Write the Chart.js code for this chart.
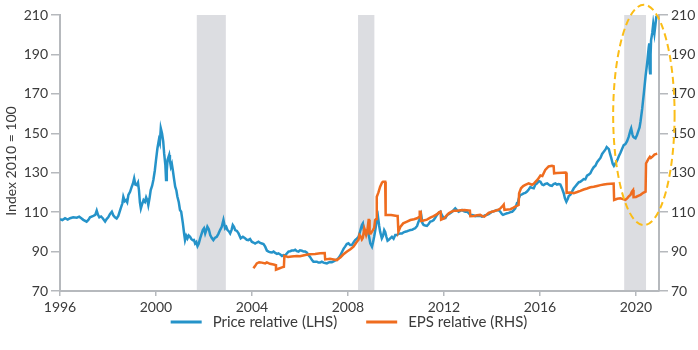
<!DOCTYPE html>
<html>
<head>
<meta charset="utf-8">
<title>Price and EPS relative</title>
<script src="https://cdn.jsdelivr.net/npm/chart.js@4.4.1/dist/chart.umd.min.js"></script>
<style>
  html, body { margin: 0; padding: 0; background: #ffffff; }
  #wrap { position: relative; width: 698px; height: 350px; }
</style>
</head>
<body>
<div id="wrap"><canvas id="chart" width="698" height="350"></canvas></div>
<script>
// Price relative, index 2010 = 100 (left axis)
const priceYears = [
  1996.00,1996.10,1996.21,1996.32,1996.42,1996.55,1996.70,1996.80,1996.90,1996.97,
  1997.11,1997.18,1997.25,1997.39,1997.47,1997.53,1997.58,1997.64,1997.71,1997.78,
  1997.88,1997.95,1998.01,1998.08,1998.16,1998.22,1998.29,1998.36,1998.43,1998.53,
  1998.60,1998.64,1998.70,1998.75,1998.80,1998.85,1998.92,1998.99,1999.04,1999.09,
  1999.14,1999.20,1999.25,1999.29,1999.33,1999.37,1999.42,1999.48,1999.54,1999.59,
  1999.64,1999.68,1999.73,1999.78,1999.84,1999.89,1999.95,2000.00,2000.06,2000.12,
  2000.16,2000.20,2000.25,2000.30,2000.34,2000.39,2000.42,2000.45,2000.48,2000.55,
  2000.58,2000.62,2000.66,2000.70,2000.75,2000.80,2000.85,2000.89,2000.95,2001.00,
  2001.05,2001.12,2001.17,2001.21,2001.26,2001.31,2001.36,2001.42,2001.47,2001.53,
  2001.58,2001.63,2001.68,2001.73,2001.78,2001.84,2001.90,2001.95,2002.00,2002.05,
  2002.10,2002.14,2002.20,2002.26,2002.32,2002.39,2002.45,2002.53,2002.60,2002.67,
  2002.74,2002.81,2002.88,2002.93,2002.98,2003.04,2003.09,2003.15,2003.20,2003.25,
  2003.30,2003.37,2003.44,2003.53,2003.62,2003.71,2003.78,2003.85,2003.92,2003.99,
  2004.06,2004.13,2004.20,2004.27,2004.34,2004.41,2004.48,2004.55,2004.62,2004.69,
  2004.77,2004.83,2004.90,2004.97,2005.04,2005.10,2005.18,2005.25,2005.31,2005.38,
  2005.45,2005.52,2005.59,2005.66,2005.73,2005.80,2005.87,2005.94,2006.00,2006.08,
  2006.15,2006.22,2006.29,2006.35,2006.42,2006.50,2006.56,2006.63,2006.70,2006.77,
  2006.84,2006.91,2006.98,2007.05,2007.12,2007.20,2007.26,2007.33,2007.40,2007.47,
  2007.54,2007.60,2007.68,2007.75,2007.82,2007.88,2007.95,2008.02,2008.09,2008.16,
  2008.23,2008.30,2008.37,2008.44,2008.50,2008.54,2008.58,2008.62,2008.66,2008.72,
  2008.77,2008.82,2008.88,2008.93,2009.00,2009.04,2009.09,2009.14,2009.18,2009.25,
  2009.30,2009.34,2009.41,2009.46,2009.51,2009.55,2009.60,2009.65,2009.69,2009.76,
  2009.83,2009.90,2009.97,2010.04,2010.11,2010.18,2010.25,2010.32,2010.39,2010.46,
  2010.53,2010.60,2010.67,2010.74,2010.80,2010.88,2010.94,2011.01,2011.05,2011.10,
  2011.15,2011.22,2011.29,2011.36,2011.43,2011.50,2011.57,2011.64,2011.71,2011.78,
  2011.85,2011.92,2011.99,2012.06,2012.13,2012.20,2012.26,2012.34,2012.40,2012.47,
  2012.54,2012.61,2012.68,2012.75,2012.82,2012.89,2012.96,2013.03,2013.10,2013.17,
  2013.24,2013.31,2013.38,2013.45,2013.51,2013.58,2013.65,2013.72,2013.79,2013.86,
  2013.93,2014.00,2014.07,2014.14,2014.21,2014.28,2014.35,2014.42,2014.46,2014.53,
  2014.63,2014.70,2014.77,2014.84,2014.90,2014.97,2015.04,2015.07,2015.12,2015.18,
  2015.25,2015.32,2015.39,2015.46,2015.53,2015.60,2015.67,2015.74,2015.81,2015.88,
  2015.95,2016.02,2016.09,2016.15,2016.22,2016.30,2016.36,2016.43,2016.50,2016.57,
  2016.64,2016.71,2016.78,2016.85,2016.92,2016.99,2017.04,2017.10,2017.16,2017.20,
  2017.27,2017.34,2017.41,2017.47,2017.55,2017.62,2017.68,2017.75,2017.82,2017.89,
  2017.96,2018.03,2018.10,2018.17,2018.24,2018.31,2018.38,2018.45,2018.52,2018.59,
  2018.66,2018.73,2018.78,2018.87,2018.92,2018.97,2019.03,2019.08,2019.15,2019.22,
  2019.29,2019.35,2019.42,2019.49,2019.56,2019.63,2019.70,2019.77,2019.80,2019.85,
  2019.88,2019.93,2019.98,2020.04,2020.09,2020.15,2020.19,2020.26,2020.33,2020.40,
  2020.47,2020.53,2020.555,2020.57,2020.59,2020.61,2020.63,2020.68,2020.72,2020.77,
  2020.80,2020.85,2020.88
];
const priceValues = [
  106.4,106.0,106.9,106.2,106.9,107.4,107.2,107.7,106.8,106.1,
  105.2,106.0,107.4,108.1,108.6,110.8,108.8,107.4,107.8,106.9,
  105.2,106.6,107.4,109.0,110.2,108.4,107.4,106.8,108.1,111.9,
  114.5,117.8,115.6,116.1,115.0,118.7,120.3,122.9,124.5,127.1,
  124.0,123.7,125.0,121.2,115.0,111.9,114.0,116.1,115.2,117.5,
  116.0,113.6,117.0,121.2,123.4,126.3,131.0,136.4,142.4,146.6,
  145.0,152.5,150.0,146.0,139.8,133.9,126.3,131.0,136.4,139.0,
  136.0,133.1,134.5,131.4,127.0,122.9,121.0,117.9,115.0,111.1,
  110.2,104.3,99.3,95.8,98.0,96.7,98.2,97.5,96.4,95.8,
  95.9,94.1,94.8,92.8,94.0,96.7,99.0,100.9,101.8,99.2,
  101.0,102.6,101.3,98.4,97.0,95.8,96.9,97.5,99.0,100.9,
  102.6,106.0,101.8,102.5,100.9,100.2,99.2,101.0,103.5,102.6,
  100.9,100.5,99.2,96.7,97.5,96.7,96.0,95.8,96.4,95.0,
  94.6,94.1,94.6,95.0,94.4,94.1,93.8,92.5,90.5,90.0,
  89.6,89.5,90.0,89.3,88.8,89.1,88.5,87.8,88.2,88.0,
  89.0,90.0,90.2,90.5,90.5,90.9,90.2,90.0,90.6,90.4,
  90.0,90.0,89.5,88.3,87.3,85.7,84.9,84.9,84.9,84.4,
  84.4,84.9,84.4,84.2,84.0,84.5,84.7,84.6,85.0,85.5,
  86.0,86.6,88.0,89.8,91.5,92.5,93.8,94.2,93.3,93.3,
  94.6,95.8,96.6,97.5,100.0,101.8,103.5,104.3,101.0,99.2,
  100.5,100.9,97.5,94.2,92.5,94.5,97.5,101.0,104.3,107.7,
  103.0,100.1,96.7,98.0,100.9,100.0,97.5,95.5,95.8,96.7,
  97.5,96.5,98.4,98.4,99.0,99.2,99.2,99.8,100.1,100.3,
  100.6,100.9,101.0,101.5,101.8,103.0,105.2,107.0,108.6,104.5,
  103.5,103.2,103.0,104.0,105.2,105.4,106.0,107.2,108.6,109.6,
  110.2,108.3,106.9,107.0,108.6,109.0,109.4,110.2,111.0,111.9,
  111.0,110.2,110.6,111.1,110.5,110.2,110.2,109.5,108.6,108.6,
  108.3,107.9,108.1,108.0,108.2,107.7,108.0,108.4,108.6,109.0,
  109.6,110.2,110.4,110.8,111.1,111.0,110.2,109.0,108.6,109.0,
  109.4,109.6,110.0,110.2,110.9,111.9,114.5,114.5,117.0,118.7,
  119.0,119.5,119.8,120.4,121.5,122.7,122.3,122.1,124.0,124.6,
  125.8,125.4,124.0,123.7,124.3,124.6,124.0,123.5,123.3,124.3,
  124.6,124.0,124.2,124.0,122.0,119.6,117.0,115.3,116.8,118.2,
  118.9,120.5,122.1,123.0,124.2,125.2,125.4,126.0,126.8,126.6,
  128.5,129.0,129.7,131.5,132.8,133.5,135.3,136.4,137.5,139.5,
  140.7,141.8,143.0,142.0,139.5,137.5,134.5,133.5,134.8,136.4,
  138.5,140.0,142.0,144.0,144.5,146.0,148.3,151.5,152.5,149.5,
  148.3,147.8,147.5,149.0,150.8,153.0,156.0,162.5,170.5,179.0,
  186.0,193.5,195.6,183.0,180.4,190.0,197.3,201.0,205.5,200.8,
  204.0,209.2,209.5
];

// EPS relative, index 2010 = 100 (right axis)
const epsYears = [
  2004.06,2004.12,2004.20,2004.30,2004.41,2004.55,2004.62,2004.75,2004.90,2005.00,
  2005.00,2005.10,2005.25,2005.33,2005.35,2005.50,2005.65,2005.87,2006.00,2006.22,
  2006.40,2006.63,2006.84,2007.03,2007.05,2007.25,2007.40,2007.54,2007.62,2007.68,
  2007.80,2007.96,2008.10,2008.23,2008.37,2008.44,2008.48,2008.54,2008.58,2008.62,
  2008.68,2008.72,2008.76,2008.80,2008.86,2008.88,2008.90,2008.95,2009.04,2009.09,
  2009.13,2009.17,2009.20,2009.27,2009.34,2009.42,2009.46,2009.55,2009.57,2009.80,
  2010.04,2010.07,2010.10,2010.18,2010.30,2010.46,2010.60,2010.75,2010.88,2010.96,
  2010.99,2011.03,2011.05,2011.15,2011.29,2011.43,2011.57,2011.71,2011.80,2011.86,
  2011.88,2012.00,2012.13,2012.20,2012.30,2012.40,2012.55,2012.70,2012.85,2013.03,
  2013.08,2013.10,2013.25,2013.38,2013.51,2013.60,2013.68,2013.75,2013.86,2014.00,
  2014.14,2014.28,2014.35,2014.44,2014.49,2014.52,2014.65,2014.77,2014.90,2014.97,
  2015.11,2015.13,2015.21,2015.30,2015.39,2015.53,2015.67,2015.75,2015.81,2015.90,
  2016.02,2016.10,2016.22,2016.36,2016.50,2016.57,2016.59,2016.71,2016.92,2017.06,
  2017.09,2017.11,2017.25,2017.41,2017.55,2017.68,2017.82,2017.96,2018.10,2018.24,
  2018.38,2018.52,2018.66,2018.80,2018.95,2019.07,2019.09,2019.22,2019.35,2019.49,
  2019.56,2019.63,2019.70,2019.77,2019.83,2019.88,2019.90,2020.00,2020.09,2020.19,
  2020.30,2020.40,2020.42,2020.46,2020.52,2020.58,2020.62,2020.70,2020.77,2020.85,
  2020.88
];
const epsValues = [
  81.5,82.5,84.0,84.6,84.4,84.0,84.5,83.8,83.4,83.1,
  80.8,81.3,82.0,82.3,87.8,87.3,87.5,87.8,87.6,88.3,
  88.6,88.8,89.1,89.2,86.0,86.3,86.0,85.7,86.5,87.0,
  88.5,90.0,91.2,92.5,95.0,96.0,98.4,97.5,96.2,97.0,
  101.8,100.5,98.4,100.0,106.0,106.0,99.2,99.2,100.9,102.0,
  106.0,106.5,117.8,120.0,122.9,125.0,125.4,125.4,108.6,108.6,
  108.1,108.1,100.1,102.5,104.3,105.2,106.0,106.4,106.9,107.5,
  110.2,110.2,105.5,105.8,106.2,107.2,108.0,109.0,110.0,110.2,
  106.2,106.8,108.5,109.4,110.2,110.7,110.7,111.0,111.1,110.9,
  110.8,107.9,108.0,108.4,108.6,108.0,107.7,108.5,109.6,110.2,
  110.7,111.3,111.9,113.0,113.8,111.1,111.3,111.5,112.3,112.8,
  113.6,119.6,122.1,123.2,123.8,124.6,123.9,124.5,125.4,126.5,
  128.6,128.3,131.4,133.2,133.5,133.3,129.7,129.8,130.0,130.1,
  130.0,119.8,120.0,119.6,120.2,120.8,121.5,122.0,122.6,122.9,
  123.3,123.7,124.0,124.3,124.4,124.5,116.2,116.8,117.0,116.5,
  116.2,117.0,118.0,118.7,120.4,121.2,117.6,117.7,118.3,118.8,
  119.8,120.4,134.8,135.6,137.0,138.1,137.5,138.3,139.2,139.6,
  139.8
];

const seriesLabels = ['Price relative (LHS)', 'EPS relative (RHS)'];
const xTickYears = [1996, 2000, 2004, 2008, 2012, 2016, 2020];
const yTickValues = [70, 90, 110, 130, 150, 170, 190, 210];
const recessions = [[2001.70, 2002.91], [2008.42, 2009.10], [2019.51, 2020.42]];
const axisTitle = 'Index 2010 = 100';

// dashed ring around the 2020 rally: centre (year, index) and radii (years, index points)
const focusRing = { x: 2020.33, y: 159.3, rx: 1.28, ry: 55.9 };

const BLUE = '#2593c9';
const ORANGE = '#ef6c1f';
const AXIS = '#b6b9bd';
const TEXT = '#3a3a3a';
const BAND = '#dcdde1';
const RING = '#fbbd17';
const FONT = 'Lato, "Open Sans", sans-serif';

Chart.defaults.font.family = FONT;
Chart.defaults.font.size = 14;
Chart.defaults.color = TEXT;

const toPoints = (xs, ys) => xs.map((x, i) => ({ x: x, y: ys[i] }));

// grey shaded periods behind the lines
const bandsPlugin = {
  id: 'bands',
  beforeDatasetsDraw(chart) {
    const { ctx, chartArea, scales } = chart;
    ctx.save();
    ctx.fillStyle = BAND;
    recessions.forEach(([a, b]) => {
      const x1 = scales.x.getPixelForValue(a);
      const x2 = scales.x.getPixelForValue(b);
      ctx.fillRect(x1, chartArea.top, x2 - x1, chartArea.bottom - chartArea.top - 1);
    });
    ctx.restore();
  }
};

// axis title, dashed ring and legend
const overlayPlugin = {
  id: 'overlay',
  afterDraw(chart) {
    const { ctx, scales } = chart;
    ctx.save();

    // ring
    const cx = scales.x.getPixelForValue(focusRing.x);
    const cy = scales.y.getPixelForValue(focusRing.y);
    const rx = Math.abs(scales.x.getPixelForValue(focusRing.x + focusRing.rx) - cx);
    const ry = Math.abs(scales.y.getPixelForValue(focusRing.y + focusRing.ry) - cy);
    ctx.beginPath();
    ctx.ellipse(cx, cy, rx, ry, 0, 0, Math.PI * 2);
    ctx.setLineDash([7, 4]);
    ctx.lineWidth = 2;
    ctx.strokeStyle = RING;
    ctx.stroke();
    ctx.setLineDash([]);

    // left axis title
    ctx.fillStyle = TEXT;
    ctx.font = '14px ' + FONT;
    ctx.textAlign = 'center';
    ctx.textBaseline = 'middle';
    ctx.save();
    ctx.translate(11, 161);
    ctx.rotate(-Math.PI / 2);
    ctx.fillText(axisTitle, 0, 0);
    ctx.restore();

    // legend
    ctx.font = '15px ' + FONT;
    const lineW = 31, lineGap = 11, itemGap = 29, legendY = 322;
    const items = chart.data.datasets.map(ds => ({
      text: ds.label, color: ds.borderColor, w: ctx.measureText(ds.label).width
    }));
    const total = items.reduce((s, it) => s + lineW + lineGap + it.w, 0) + itemGap * (items.length - 1);
    let x = chart.width / 2 - total / 2;
    ctx.textAlign = 'left';
    items.forEach(it => {
      ctx.fillStyle = it.color;
      ctx.fillRect(x, legendY - 1.5, lineW, 3);
      x += lineW + lineGap;
      ctx.fillStyle = TEXT;
      ctx.fillText(it.text, x, legendY);
      x += it.w + itemGap;
    });
    ctx.restore();
  }
};

const yAxis = (position, width) => ({
  type: 'linear',
  position: position,
  min: 70,
  max: 210,
  afterBuildTicks: s => { s.ticks = yTickValues.map(v => ({ value: v })); },
  afterFit: s => { s.width = width; },
  grid: { drawOnChartArea: false, drawTicks: true, tickLength: 9, color: AXIS, lineWidth: 1.5 },
  border: { display: true, color: AXIS, width: 2 },
  ticks: { padding: 3, color: TEXT, font: { size: 14 }, callback: v => String(v) }
});

new Chart(document.getElementById('chart'), {
  type: 'line',
  data: {
    datasets: [
      {
        label: seriesLabels[0],
        data: toPoints(priceYears, priceValues),
        yAxisID: 'y',
        borderColor: BLUE,
        borderWidth: 2.5,
        pointRadius: 0,
        tension: 0,
        fill: false,
        order: 2
      },
      {
        label: seriesLabels[1],
        data: toPoints(epsYears, epsValues),
        yAxisID: 'y2',
        borderColor: ORANGE,
        borderWidth: 2.5,
        pointRadius: 0,
        tension: 0,
        fill: false,
        order: 1
      }
    ]
  },
  options: {
    responsive: false,
    animation: false,
    devicePixelRatio: 1,
    layout: { padding: { top: 15, left: 0, right: 0, bottom: 0 } },
    plugins: {
      legend: { display: false },
      tooltip: { enabled: false }
    },
    scales: {
      x: {
        type: 'linear',
        min: 1996,
        max: 2020.96,
        afterBuildTicks: s => { s.ticks = xTickYears.map(v => ({ value: v })); },
        afterFit: s => { s.height = 59; },
        grid: { drawOnChartArea: false, drawTicks: true, tickLength: 5, color: AXIS, lineWidth: 1.5 },
        border: { display: true, color: AXIS, width: 2 },
        ticks: { padding: 3, color: TEXT, font: { size: 14 }, autoSkip: false, maxRotation: 0, callback: v => String(v) }
      },
      y: yAxis('left', 60),
      y2: yAxis('right', 39)
    }
  },
  plugins: [bandsPlugin, overlayPlugin]
});
</script>
</body>
</html>
